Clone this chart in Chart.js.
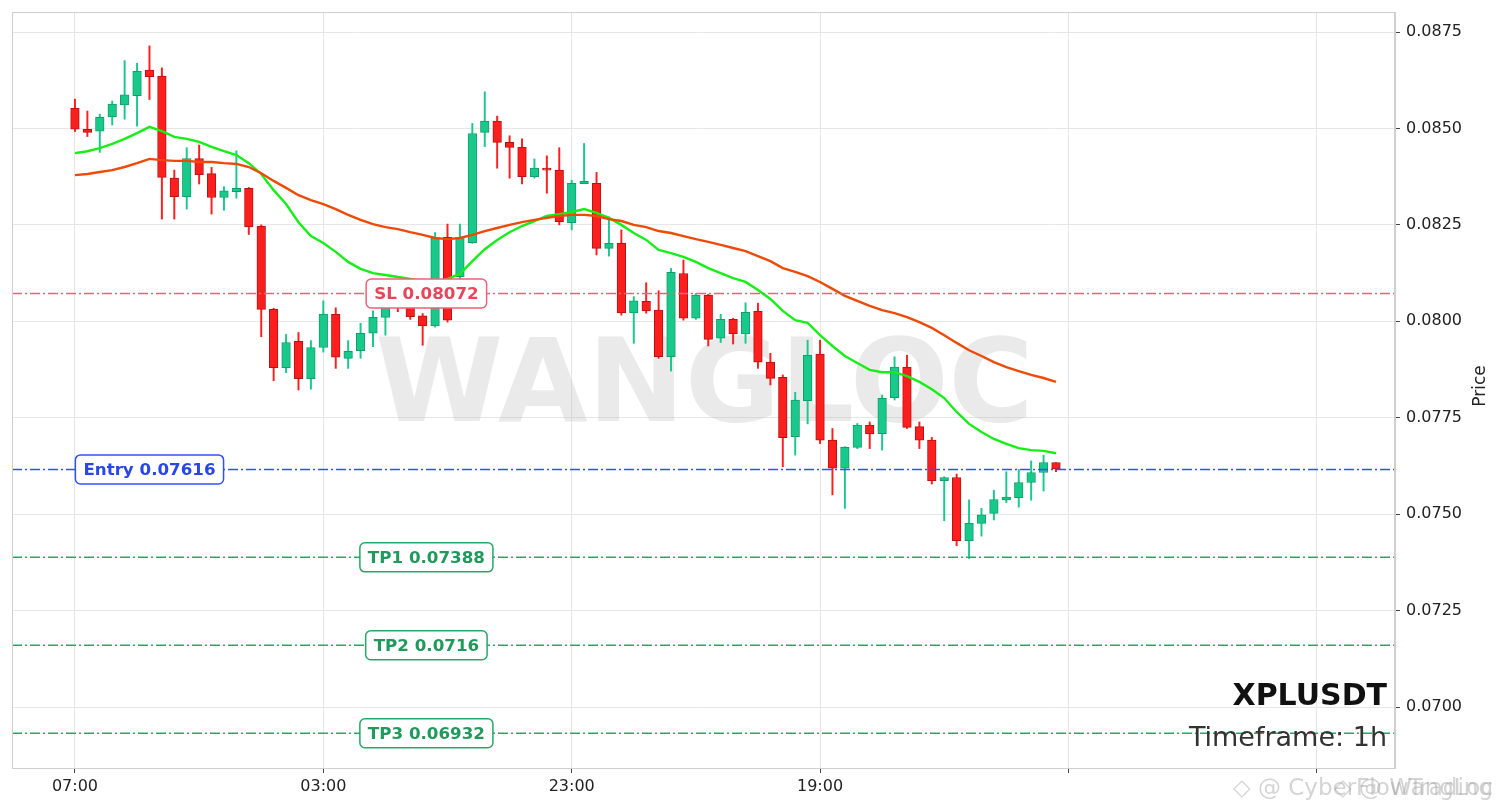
<!DOCTYPE html>
<html>
<head>
<meta charset="utf-8">
<title>XPLUSDT 1h</title>
<script src="https://cdn.jsdelivr.net/npm/chart.js@4.4.1/dist/chart.umd.min.js"></script>
<style>
  html, body { margin: 0; padding: 0; background: #ffffff; }
  #wrap { width: 1501px; height: 808px; }
</style>
</head>
<body>
<div id="wrap"><canvas id="chart" width="1501" height="808"></canvas></div>
<script>
// candle data, 1h, first candle at 07:00
const opens = [
  0.08552, 0.08498, 0.08493, 0.08530, 0.08561, 0.08585, 0.08651, 0.08636, 0.08371, 0.08323,
  0.08422, 0.08383, 0.08321, 0.08336, 0.08345, 0.08247, 0.08031, 0.07880, 0.07948, 0.07851,
  0.07932, 0.08018, 0.07904, 0.07924, 0.07969, 0.08010, 0.08042, 0.08036, 0.08014, 0.07988,
  0.08218, 0.08116, 0.08204, 0.08490, 0.08519, 0.08464, 0.08451, 0.08375, 0.08397, 0.08392,
  0.08256, 0.08357, 0.08358, 0.08189, 0.08202, 0.08022, 0.08052, 0.08029, 0.07908, 0.08124,
  0.08008, 0.08068, 0.07956, 0.08005, 0.07967, 0.08026, 0.07894, 0.07855, 0.07701, 0.07794,
  0.07915, 0.07692, 0.07619, 0.07673, 0.07731, 0.07709, 0.07802, 0.07881, 0.07727, 0.07692,
  0.07587, 0.07595, 0.07431, 0.07476, 0.07502, 0.07537, 0.07543, 0.07582, 0.07608, 0.07634
];
const highs = [
  0.08576, 0.08545, 0.08537, 0.08571, 0.08676, 0.08669, 0.08714, 0.08657, 0.08392, 0.08450,
  0.08457, 0.08399, 0.08349, 0.08442, 0.08347, 0.08250, 0.08034, 0.07966, 0.07971, 0.07950,
  0.08053, 0.08035, 0.07950, 0.07995, 0.08027, 0.08060, 0.08060, 0.08045, 0.08020, 0.08230,
  0.08252, 0.08252, 0.08513, 0.08595, 0.08532, 0.08481, 0.08473, 0.08421, 0.08429, 0.08450,
  0.08366, 0.08461, 0.08386, 0.08271, 0.08237, 0.08064, 0.08100, 0.08079, 0.08137, 0.08159,
  0.08072, 0.08070, 0.08018, 0.08008, 0.08048, 0.08047, 0.07917, 0.07861, 0.07816, 0.07951,
  0.07951, 0.07722, 0.07675, 0.07735, 0.07739, 0.07809, 0.07908, 0.07912, 0.07739, 0.07699,
  0.07597, 0.07604, 0.07537, 0.07515, 0.07562, 0.07610, 0.07616, 0.07638, 0.07653, 0.07634
];
const lows = [
  0.08492, 0.08479, 0.08438, 0.08509, 0.08524, 0.08506, 0.08575, 0.08265, 0.08265, 0.08291,
  0.08356, 0.08278, 0.08288, 0.08319, 0.08225, 0.07960, 0.07846, 0.07867, 0.07822, 0.07824,
  0.07920, 0.07878, 0.07878, 0.07904, 0.07934, 0.07964, 0.08025, 0.08005, 0.07938, 0.07985,
  0.07998, 0.08100, 0.08202, 0.08453, 0.08397, 0.08371, 0.08356, 0.08371, 0.08332, 0.08250,
  0.08237, 0.08357, 0.08172, 0.08169, 0.08016, 0.07943, 0.08021, 0.07904, 0.07871, 0.08003,
  0.08005, 0.07936, 0.07945, 0.07941, 0.07943, 0.07878, 0.07835, 0.07623, 0.07653, 0.07734,
  0.07683, 0.07550, 0.07515, 0.07670, 0.07670, 0.07666, 0.07796, 0.07722, 0.07670, 0.07578,
  0.07483, 0.07418, 0.07385, 0.07443, 0.07485, 0.07530, 0.07518, 0.07536, 0.07560, 0.07610
];
const closes = [
  0.08498, 0.08490, 0.08529, 0.08563, 0.08587, 0.08648, 0.08634, 0.08373, 0.08323, 0.08422,
  0.08380, 0.08321, 0.08338, 0.08345, 0.08245, 0.08031, 0.07880, 0.07945, 0.07851, 0.07932,
  0.08019, 0.07907, 0.07922, 0.07969, 0.08010, 0.08042, 0.08036, 0.08012, 0.07988, 0.08216,
  0.08003, 0.08218, 0.08487, 0.08519, 0.08464, 0.08451, 0.08375, 0.08397, 0.08392, 0.08258,
  0.08358, 0.08363, 0.08189, 0.08202, 0.08022, 0.08053, 0.08027, 0.07908, 0.08127, 0.08008,
  0.08068, 0.07953, 0.08005, 0.07967, 0.08023, 0.07894, 0.07852, 0.07698, 0.07796, 0.07912,
  0.07692, 0.07619, 0.07673, 0.07731, 0.07708, 0.07800, 0.07881, 0.07725, 0.07692, 0.07587,
  0.07595, 0.07431, 0.07476, 0.07498, 0.07538, 0.07544, 0.07582, 0.07608, 0.07634, 0.07617
];

// moving averages
const emaFast = [
  0.08436, 0.08441, 0.08449, 0.08460, 0.08473, 0.08488, 0.08504, 0.08493, 0.08478, 0.08473,
  0.08465, 0.08452, 0.08441, 0.08431, 0.08410, 0.08382, 0.08340, 0.08304, 0.08257, 0.08221,
  0.08203, 0.08180, 0.08154, 0.08136, 0.08125, 0.08120, 0.08115, 0.08110, 0.08104, 0.08099,
  0.08110, 0.08123, 0.08156, 0.08187, 0.08211, 0.08231, 0.08247, 0.08260, 0.08273, 0.08278,
  0.08283, 0.08291, 0.08281, 0.08268, 0.08250, 0.08229, 0.08211, 0.08185, 0.08177, 0.08167,
  0.08154, 0.08138, 0.08125, 0.08112, 0.08102, 0.08081, 0.08058, 0.08027, 0.08003, 0.07996,
  0.07964, 0.07936, 0.07910, 0.07892, 0.07874, 0.07868, 0.07868, 0.07858, 0.07843, 0.07824,
  0.07801, 0.07765, 0.07734, 0.07713, 0.07695, 0.07682, 0.07671, 0.07666, 0.07664, 0.07658
];
const emaSlow = [
  0.08379, 0.08382, 0.08387, 0.08392, 0.08400, 0.08410, 0.08421, 0.08418, 0.08416, 0.08416,
  0.08413, 0.08413, 0.08410, 0.08408, 0.08400, 0.08384, 0.08364, 0.08346, 0.08327, 0.08314,
  0.08304, 0.08291, 0.08276, 0.08263, 0.08252, 0.08244, 0.08239, 0.08231, 0.08224, 0.08216,
  0.08213, 0.08216, 0.08224, 0.08234, 0.08242, 0.08250, 0.08257, 0.08263, 0.08268, 0.08273,
  0.08276, 0.08276, 0.08273, 0.08265, 0.08260, 0.08250, 0.08244, 0.08234, 0.08229, 0.08221,
  0.08213, 0.08206, 0.08198, 0.08190, 0.08182, 0.08169, 0.08156, 0.08138, 0.08128, 0.08117,
  0.08102, 0.08084, 0.08066, 0.08053, 0.08040, 0.08029, 0.08021, 0.08011, 0.07998, 0.07983,
  0.07964, 0.07944, 0.07925, 0.07910, 0.07894, 0.07881, 0.07871, 0.07861, 0.07853, 0.07843
];

// trade levels
const levelNames = ["SL", "Entry", "TP1", "TP2", "TP3"];
const levelPrices = [0.08072, 0.07616, 0.07388, 0.0716, 0.06932];

// axis ticks
const xTickValues = [0, 20, 40, 60, 80, 100];
const xTickLabels = ["07:00", "03:00", "23:00", "19:00", "", ""];
const yTicks = [0.0700, 0.0725, 0.0750, 0.0775, 0.0800, 0.0825, 0.0850, 0.0875];

const symbol = "XPLUSDT";
const timeframe = "1h";

// ---- styling ----
const FONT = "'DejaVu Sans', 'Noto Sans', sans-serif";
const X_MIN = -5.07, X_MAX = 106.3;
const Y_MIN = 0.068419, Y_MAX = 0.088019;
const UP = "#19c98c", UP_EDGE = "#0f9f6a";
const DOWN = "#fd1e1e", DOWN_EDGE = "#b81212";
const levelColors = {
  SL:    { line: "#f0607a", text: "#e8455d" },
  Entry: { line: "#3050ff", text: "#2a45ea" },
  TP:    { line: "#27a768", text: "#1f9a5c" }
};
const colorFor = name => levelColors[name] || levelColors.TP;
const LABEL_X = 28.3;       // x (in candles) where SL / TP tags sit
const ENTRY_LABEL_X = 6.0;  // entry tag sits near the left

const idx = opens.map((_, i) => i);
const isUp = idx.map(i => closes[i] >= opens[i]);

const levelDatasets = levelNames.map((name, k) => ({
  type: "line",
  label: name,
  data: [{ x: X_MIN, y: levelPrices[k] }, { x: X_MAX, y: levelPrices[k] }],
  borderColor: colorFor(name).line,
  borderWidth: 1.5,
  borderDash: [10, 3, 2, 3],
  pointRadius: 0,
  order: 1
}));

// watermark behind the candles
const backdrop = {
  id: "backdrop",
  beforeDatasetsDraw(chart) {
    const { ctx, chartArea: a } = chart;
    ctx.save();
    ctx.font = "bold 116px " + FONT;
    ctx.fillStyle = "rgba(185,185,185,0.30)";
    ctx.textAlign = "center";
    ctx.textBaseline = "alphabetic";
    ctx.fillText("WANGLOC", (a.left + a.right) / 2 + 1, 421);
    ctx.restore();
  }
};

const overlay = {
  id: "overlay",
  afterDraw(chart) {
    const { ctx, chartArea: a, scales } = chart;
    ctx.save();

    // level tags
    ctx.font = "bold 16.7px " + FONT;
    ctx.textAlign = "center";
    ctx.textBaseline = "middle";
    levelNames.forEach((name, k) => {
      const text = name + " " + levelPrices[k];
      const c = colorFor(name);
      const w = ctx.measureText(text).width + 16;
      const h = 29;
      const cx = scales.x.getPixelForValue(name === "Entry" ? ENTRY_LABEL_X : LABEL_X);
      const cy = scales.y.getPixelForValue(levelPrices[k]);
      ctx.beginPath();
      ctx.roundRect(cx - w / 2, cy - h / 2, w, h, 5);
      ctx.fillStyle = "#ffffff";
      ctx.fill();
      ctx.lineWidth = 1.5;
      ctx.strokeStyle = c.line;
      ctx.stroke();
      ctx.fillStyle = c.text;
      ctx.fillText(text, cx, cy + 1);
    });

    // frame
    ctx.strokeStyle = "#cfcfcf";
    ctx.lineWidth = 1;
    ctx.strokeRect(a.left + 0.5, a.top + 0.5, a.right - a.left - 1, a.bottom - a.top);

    // symbol + timeframe
    ctx.textAlign = "right";
    ctx.textBaseline = "alphabetic";
    ctx.fillStyle = "#111111";
    ctx.font = "bold 30px " + FONT;
    ctx.fillText(symbol, a.right - 8, 705);
    ctx.fillStyle = "#333333";
    ctx.font = "27px " + FONT;
    ctx.fillText("Timeframe: " + timeframe, a.right - 8, 746);

    // y axis title, reads upwards
    ctx.save();
    ctx.translate(1481, 386);
    ctx.rotate(-Math.PI / 2);
    ctx.textAlign = "center";
    ctx.textBaseline = "middle";
    ctx.fillStyle = "#222222";
    ctx.font = "17px " + FONT;
    ctx.fillText("Price", 0, 0);
    ctx.restore();

    // reposter marks bottom right
    ctx.font = "23px " + FONT;
    ctx.fillStyle = "rgba(160,160,160,0.45)";
    ctx.textAlign = "right";
    ctx.fillText("\u25C7 @ CyberFlowTrading", 1493, 795);
    ctx.fillText("\u25C7 @ WangLoc", 1493, 795);

    ctx.restore();
  }
};

new Chart(document.getElementById("chart"), {
  type: "bar",
  data: {
    datasets: [
      {
        type: "bar",
        label: "wicks",
        data: idx.map(i => ({ x: i, y: [lows[i], highs[i]] })),
        backgroundColor: isUp.map(u => (u ? UP : DOWN)),
        borderWidth: 0,
        barThickness: 1.3,
        grouped: false,
        order: 5
      },
      {
        type: "bar",
        label: "bodies",
        data: idx.map(i => ({ x: i, y: [opens[i], closes[i]] })),
        backgroundColor: isUp.map(u => (u ? UP : DOWN)),
        borderColor: isUp.map(u => (u ? UP_EDGE : DOWN_EDGE)),
        borderWidth: 1,
        borderSkipped: false,
        barThickness: 8.6,
        grouped: false,
        order: 4
      },
      {
        type: "line",
        label: "EMA fast",
        data: idx.map(i => ({ x: i, y: emaFast[i] })),
        borderColor: "#16ee16",
        borderWidth: 2.4,
        pointRadius: 0,
        tension: 0,
        order: 3
      },
      {
        type: "line",
        label: "EMA slow",
        data: idx.map(i => ({ x: i, y: emaSlow[i] })),
        borderColor: "#ee4a06",
        borderWidth: 2.4,
        pointRadius: 0,
        tension: 0,
        order: 2
      },
      ...levelDatasets
    ]
  },
  options: {
    responsive: false,
    animation: false,
    devicePixelRatio: 1,
    events: [],
    layout: { padding: { left: 12, top: 12, right: 0, bottom: 0 } },
    plugins: { legend: { display: false }, tooltip: { enabled: false } },
    scales: {
      x: {
        type: "linear",
        min: X_MIN,
        max: X_MAX,
        offset: false,
        grid: { offset: false, color: "#e6e6e6", lineWidth: 1, tickLength: 5, tickColor: "#444444" },
        border: { display: true, color: "#cfcfcf" },
        ticks: {
          font: { family: FONT, size: 16 },
          color: "#222222",
          padding: 4,
          maxRotation: 0,
          autoSkip: false,
          callback: v => xTickLabels[xTickValues.indexOf(v)] ?? ""
        },
        afterBuildTicks: s => { s.ticks = xTickValues.map(v => ({ value: v })); },
        afterFit: s => { s.height = 40; s.paddingLeft = 0; s.paddingRight = 0; }
      },
      y: {
        type: "linear",
        position: "right",
        min: Y_MIN,
        max: Y_MAX,
        grid: { color: "#e6e6e6", lineWidth: 1, tickLength: 5, tickColor: "#444444" },
        border: { display: true, color: "#cfcfcf" },
        ticks: {
          font: { family: FONT, size: 16 },
          color: "#222222",
          padding: 6,
          callback: v => v.toFixed(4)
        },
        afterBuildTicks: s => { s.ticks = yTicks.map(v => ({ value: v })); },
        afterFit: s => { s.width = 106; s.paddingTop = 0; s.paddingBottom = 0; }
      }
    }
  },
  plugins: [backdrop, overlay]
});
</script>
</body>
</html>
